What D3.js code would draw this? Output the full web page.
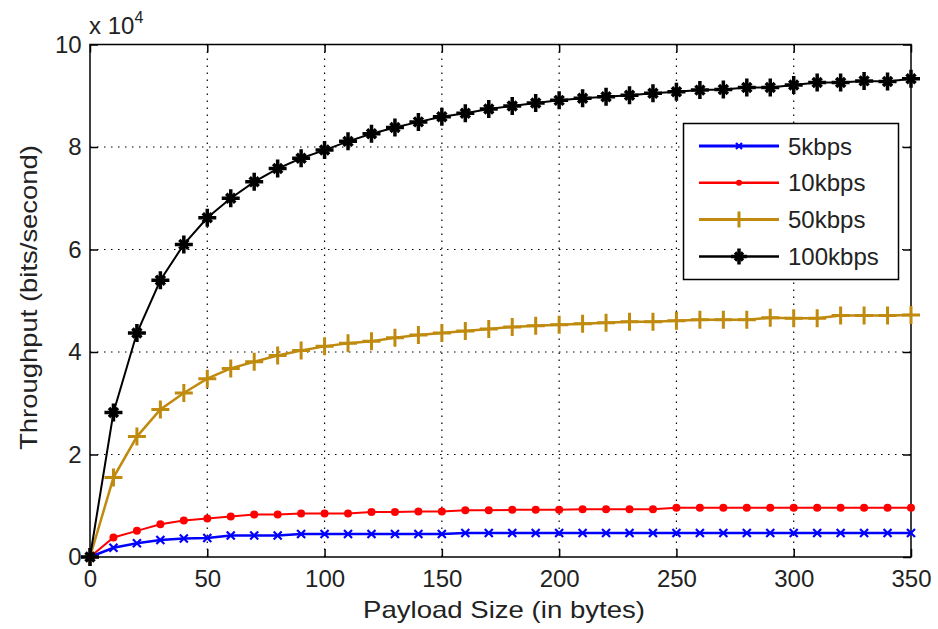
<!DOCTYPE html>
<html>
<head>
<meta charset="utf-8">
<script src="https://cdn.jsdelivr.net/npm/d3@7"></script>
<style>
  body { margin: 0; background: #fff; }
  text { font-family: "Liberation Sans", Arial, sans-serif; fill: #222; }
</style>
</head>
<body>
<svg width="938" height="629"></svg>
<script>
  // payload sizes (bytes)
  const payload = d3.range(0, 351, 10);

  // throughput in units of 10^4 bits/second
  const tp5 = [0, 0.18, 0.27, 0.33, 0.36, 0.37, 0.42, 0.42, 0.42, 0.45, 0.45, 0.45, 0.45,
    0.45, 0.45, 0.45, 0.47, 0.47, 0.47, 0.47, 0.47, 0.47, 0.47, 0.47, 0.47, 0.47,
    0.47, 0.47, 0.47, 0.47, 0.47, 0.47, 0.47, 0.47, 0.47, 0.47];
  const tp10 = [0, 0.38, 0.51, 0.64, 0.71, 0.75, 0.79, 0.83, 0.83, 0.85, 0.85, 0.85, 0.88,
    0.88, 0.89, 0.89, 0.91, 0.91, 0.92, 0.92, 0.92, 0.93, 0.93, 0.93, 0.93, 0.96,
    0.96, 0.96, 0.96, 0.96, 0.96, 0.96, 0.96, 0.96, 0.96, 0.96];
  const tp50 = [0, 1.55, 2.35, 2.88, 3.2, 3.48, 3.68, 3.81, 3.93, 4.03, 4.11, 4.17, 4.21,
    4.28, 4.33, 4.37, 4.41, 4.45, 4.49, 4.51, 4.53, 4.55, 4.57, 4.59, 4.59, 4.61,
    4.63, 4.63, 4.63, 4.67, 4.66, 4.66, 4.71, 4.71, 4.71, 4.72];
  const tp100 = [0, 2.82, 4.37, 5.4, 6.1, 6.62, 7.0, 7.32, 7.58, 7.78, 7.94, 8.11, 8.26,
    8.38, 8.49, 8.59, 8.66, 8.74, 8.8, 8.86, 8.91, 8.95, 8.98, 9.01, 9.05, 9.08,
    9.11, 9.12, 9.16, 9.16, 9.21, 9.26, 9.26, 9.29, 9.28, 9.33];

  const seriesNames = ["5kbps", "10kbps", "50kbps", "100kbps"];
  const seriesColors = ["#0000ff", "#ff0000", "#bf8a0e", "#000000"];
  const seriesMarkers = ["x", "dot", "plus", "star"];
  const seriesValues = [tp5, tp10, tp50, tp100];

  const xTicks = [0, 50, 100, 150, 200, 250, 300, 350];
  const yTicks = [0, 2, 4, 6, 8, 10];

  const svg = d3.select("svg");
  const pLeft = 90, pRight = 911, pTop = 44.5, pBottom = 557;

  const x = d3.scaleLinear().domain([0, 350]).range([pLeft, pRight]);
  const y = d3.scaleLinear().domain([0, 10]).range([pBottom, pTop]);

  // grid
  const grid = svg.append("g").attr("stroke", "#000").attr("stroke-width", 1.2)
    .attr("stroke-dasharray", "1.5,5.5");
  grid.selectAll(".gx").data(xTicks.slice(1, -1)).join("line")
    .attr("x1", d => x(d)).attr("x2", d => x(d))
    .attr("y1", pTop).attr("y2", pBottom);
  grid.selectAll(".gy").data(yTicks.slice(1, -1)).join("line")
    .attr("y1", d => y(d)).attr("y2", d => y(d))
    .attr("x1", pLeft).attr("x2", pRight);

  // axes (ticks inside, mirrored like matlab)
  const tick = 8;
  const xAxis = d3.axisBottom(x).tickValues(xTicks).tickSizeInner(-tick).tickSizeOuter(0).tickPadding(10);
  const yAxis = d3.axisLeft(y).tickValues(yTicks).tickSizeInner(-tick).tickSizeOuter(0).tickPadding(8);
  const xTop = d3.axisTop(x).tickValues(xTicks).tickSizeInner(-tick).tickSizeOuter(0).tickFormat("");
  const yRight = d3.axisRight(y).tickValues(yTicks).tickSizeInner(-tick).tickSizeOuter(0).tickFormat("");

  function styleAxis(g) {
    g.select(".domain").remove();
    g.selectAll("line").attr("stroke", "#000").attr("stroke-width", 1.5);
    g.selectAll("text").style("font-size", "24px").attr("fill", "#222")
      .style("font-family", "Liberation Sans, Arial, sans-serif");
  }
  svg.append("g").attr("transform", `translate(0,${pBottom})`).call(xAxis).call(styleAxis)
    .selectAll("text").attr("y", 30).attr("dy", null);
  svg.append("g").attr("transform", `translate(${pLeft},0)`).call(yAxis).call(styleAxis)
    .selectAll("text").attr("x", 0).attr("dx", "-0.35em");
  svg.append("g").attr("transform", `translate(0,${pTop})`).call(xTop).call(styleAxis);
  svg.append("g").attr("transform", `translate(${pRight},0)`).call(yRight).call(styleAxis);

  svg.append("rect").attr("x", pLeft).attr("y", pTop)
    .attr("width", pRight - pLeft).attr("height", pBottom - pTop)
    .attr("fill", "none").attr("stroke", "#000").attr("stroke-width", 1.5);

  // markers
  function drawMarker(g, type, color, s) {
    if (type === "x") {
      g.append("path").attr("d", `M${-s},${-s}L${s},${s}M${-s},${s}L${s},${-s}`)
        .attr("stroke", color).attr("stroke-width", 2.2);
    } else if (type === "dot") {
      g.append("circle").attr("r", s).attr("fill", color);
    } else if (type === "plus") {
      g.append("path").attr("d", `M${-s},0L${s},0M0,${-s}L0,${s}`)
        .attr("stroke", color).attr("stroke-width", 3);
    } else {
      g.append("path").attr("d", `M${-s},0L${s},0M0,${-s}L0,${s}`)
        .attr("stroke", color).attr("stroke-width", 3.5);
      const k = s * 0.5;
      g.append("path").attr("d", `M${-k},${-k}L${k},${k}M${-k},${k}L${k},${-k}`)
        .attr("stroke", color).attr("stroke-width", 3.5);
    }
  }
  const markerSize = [4, 4, 9, 9];
  const lineWidth = [2.5, 2, 2.5, 2];

  const line = d3.line().x((d, i) => x(payload[i])).y(d => y(d));
  seriesValues.forEach((vals, si) => {
    const g = svg.append("g");
    g.append("path").datum(vals).attr("d", line)
      .attr("fill", "none").attr("stroke", seriesColors[si]).attr("stroke-width", lineWidth[si]);
    g.selectAll("g.m").data(vals).join("g")
      .attr("transform", (d, i) => `translate(${x(payload[i])},${y(d)})`)
      .each(function () { drawMarker(d3.select(this), seriesMarkers[si], seriesColors[si], markerSize[si]); });
  });

  // exponent label
  const ex = svg.append("text").attr("x", 89).attr("y", 34).style("font-size", "24px");
  ex.append("tspan").text("x 10");
  ex.append("tspan").attr("dy", -11).style("font-size", "16px").text("4");

  // axis titles
  svg.append("text").attr("x", 504).attr("y", 618).attr("text-anchor", "middle")
    .attr("textLength", 282).attr("lengthAdjust", "spacingAndGlyphs")
    .style("font-size", "24px").text("Payload Size (in bytes)");
  svg.append("text").attr("transform", `translate(37,297.5) rotate(-90)`)
    .attr("text-anchor", "middle")
    .attr("textLength", 305).attr("lengthAdjust", "spacingAndGlyphs")
    .style("font-size", "24px").text("Throughput (bits/second)");

  // legend
  const lg = svg.append("g");
  lg.append("rect").attr("x", 683.5).attr("y", 123.5).attr("width", 215).attr("height", 156)
    .attr("fill", "#fff").attr("stroke", "#000").attr("stroke-width", 1.5);
  seriesNames.forEach((name, i) => {
    const yy = 146 + i * 36.8;
    lg.append("line").attr("x1", 699).attr("x2", 779).attr("y1", yy).attr("y2", yy)
      .attr("stroke", seriesColors[i]).attr("stroke-width", lineWidth[i] + 0.5);
    const mg = lg.append("g").attr("transform", `translate(739,${yy})`);
    drawMarker(mg, seriesMarkers[i], seriesColors[i], i < 2 ? 3 : 8);
    lg.append("text").attr("x", 788).attr("y", yy).attr("dy", "0.36em")
      .style("font-size", "24px").text(name);
  });
</script>
</body>
</html>
